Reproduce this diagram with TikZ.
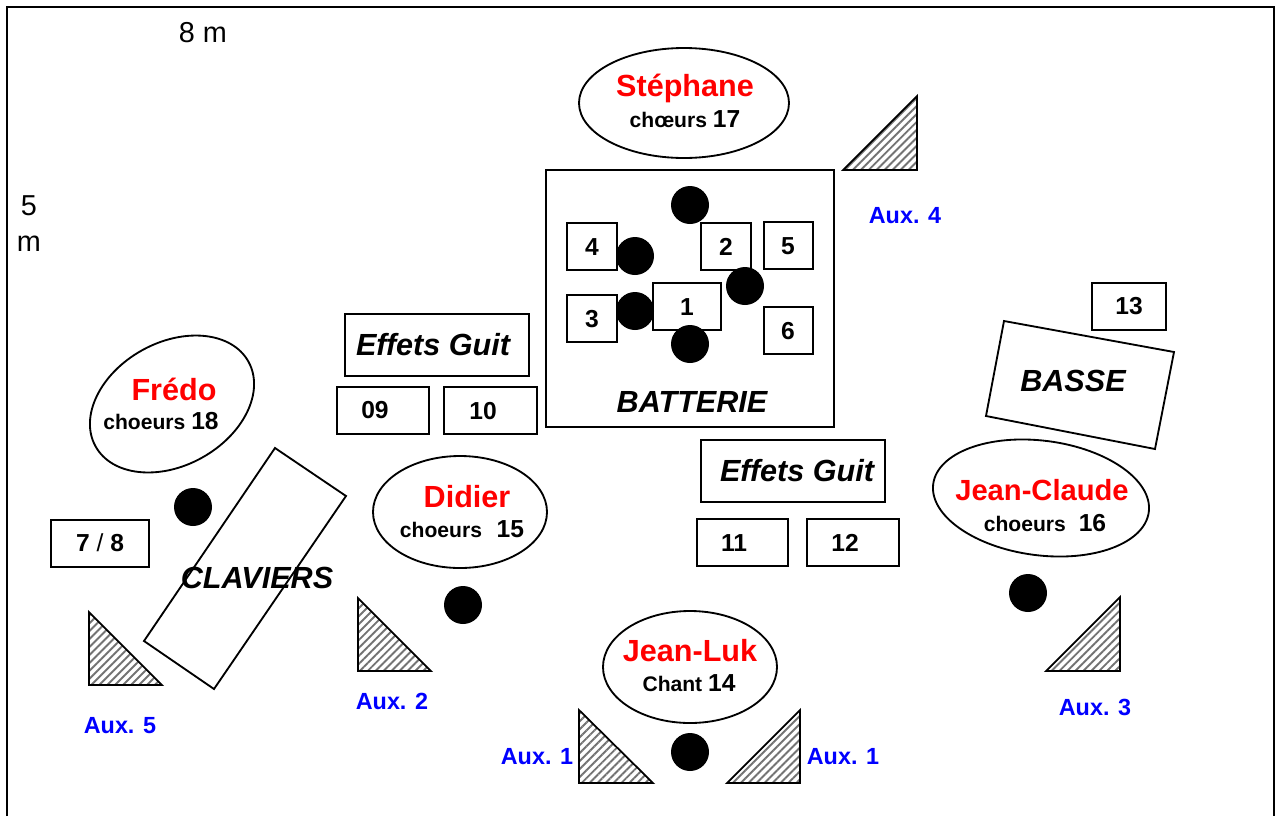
\documentclass[tikz,border=0pt]{standalone}
\usepackage{fontspec}
\setmainfont{Liberation Sans}
\usepackage{tikz}
\usetikzlibrary{patterns.meta}
\newcommand{\smalltxt}{\fontsize{12}{14}\selectfont\bfseries}
\newcommand{\numtxt}{\fontsize{14}{16}\selectfont\bfseries}
\tikzset{
  nom/.style={text=red,font=\fontsize{17.4}{20}\selectfont\bfseries,inner sep=0pt},
  role/.style={font=\smalltxt,inner sep=0pt},
  num/.style={font=\numtxt,inner sep=0pt},
  aux/.style={text=blue,font=\fontsize{13.3}{16}\selectfont\bfseries,inner sep=0pt},
  titre/.style={font=\fontsize{17.4}{20}\selectfont\bfseries\itshape,inner sep=0pt},
  dim/.style={font=\fontsize{16.4}{20}\selectfont,inner sep=0pt},
  retour/.style={draw=black,line width=1pt,line join=miter,pattern={Lines[angle=45,distance=3.2pt,line width=1.1pt]},pattern color=black!55},
  trait/.style={line width=1.05pt},
  micro/.style={fill=black}
}
\begin{document}
\begin{tikzpicture}[x=0.02cm,y=-0.02cm]
\useasboundingbox (0,0) rectangle (1279,816);
% scene
\draw[line width=1.1pt] (7,816) -- (7,7) -- (1274,7) -- (1274,816);
\node[dim] (largeur) at (203,33) {8 m};
\node[dim] (prof5) at (29,206) {5};
\node[dim] (profm) at (29,244) {m};
% batterie
\draw[trait] (546,170) rectangle (834,427);
\node[titre] (batterie) at (692,402) {BATTERIE};
\draw[trait] (567,223) rectangle (617,270);
\draw[trait] (701,223) rectangle (751,270);
\draw[trait] (764,222) rectangle (813,269);
\draw[trait] (653,283) rectangle (721,330);
\draw[trait] (567,295) rectangle (617,342);
\draw[trait] (764,307) rectangle (813,354);
\node[num] (n4) at (592,247) {4};
\node[num] (n2) at (726,247) {2};
\node[num] (n5) at (788,246) {5};
\node[num] (n1) at (687,307) {1};
\node[num] (n3) at (592,319) {3};
\node[num] (n6) at (788,331) {6};
\fill[micro] (690,205) circle (19);
\fill[micro] (635,256) circle (19);
\fill[micro] (745,286) circle (19);
\fill[micro] (635,311) circle (19);
\fill[micro] (690,344) circle (19);
% guitares
\draw[trait] (345,314) rectangle (529,376);
\node[titre] (effetsA) at (433,345) {Effets Guit};
\draw[trait] (337,387) rectangle (429,434);
\draw[trait] (444,387) rectangle (537,434);
\node[num] (n09) at (375,410) {09};
\node[num] (n10) at (483,411) {10};
\draw[trait] (701,440) rectangle (885,502);
\node[titre] (effetsB) at (797,471) {Effets Guit};
\draw[trait] (697,519) rectangle (788,566);
\draw[trait] (807,519) rectangle (899,566);
\node[num] (n11) at (734,543) {11};
\node[num] (n12) at (845,543) {12};
% basse
\draw[trait] (1092,283) rectangle (1166,330);
\node[num] (n13) at (1129,306) {13};
\draw[trait] (1004,321) -- (1174,352) -- (1155,449) -- (986,416) -- cycle;
\node[titre] (basse) at (1073,381) {BASSE};
% claviers
\draw[trait] (275,448) -- (346,496) -- (214,689) -- (144,641) -- cycle;
\node[titre] (claviers) at (257,578) {CLAVIERS};
\draw[trait] (51,520) rectangle (149,567);
\node[num] (n78) at (100,543) {7 {\fontseries{m}\selectfont/} 8};
% musiciens
\draw[trait] (684,103) ellipse (105 and 55);
\node[nom] (stephane) at (685,88) {Stéphane};
\node[role] (choeurs17) at (685,119) {chœurs {\numtxt 17}};
\draw[trait,rotate around={29:(172,404)}] (172,404) ellipse (87.4 and 61.5);
\node[nom] (fredo) at (174,389) {Frédo};
\node[role] (choeurs18) at (161,421) {choeurs {\numtxt 18}};
\draw[trait] (460,512) ellipse (87 and 56);
\node[nom] (didier) at (467,497) {Didier};
\node[role] (choeurs15) at (462,529) {choeurs\hspace{5pt} {\numtxt 15}};
\draw[trait,rotate around={-7.4:(1041,498)}] (1041,498) ellipse (108.7 and 57.3);
\node[nom,font=\fontsize{16.6}{20}\selectfont\bfseries] (jeanclaude) at (1042,490) {Jean-Claude};
\node[role] (choeurs16) at (1045,523) {choeurs\hspace{4pt} {\numtxt 16}};
\draw[trait] (690,667) ellipse (87 and 56);
\node[nom] (jeanluk) at (690,651) {Jean-Luk};
\node[role] (chant14) at (689,683) {Chant {\numtxt 14}};
% micros
\fill[micro] (193,507) circle (19);
\fill[micro] (463,605) circle (19);
\fill[micro] (1028,593) circle (19);
\fill[micro] (690,752) circle (19);
% retours
\draw[retour] (843,170) -- (917,96) -- (917,170) -- cycle;
\draw[retour] (89,612) -- (89,685) -- (162,685) -- cycle;
\draw[retour] (358,598) -- (358,671) -- (431,671) -- cycle;
\draw[retour] (579,710) -- (579,783) -- (653,783) -- cycle;
\draw[retour] (727,783) -- (800,710) -- (800,783) -- cycle;
\draw[retour] (1046,671) -- (1120,597) -- (1120,671) -- cycle;
\node[aux] (aux4) at (905,216) {Aux. 4};
\node[aux] (aux5) at (120,726) {Aux. 5};
\node[aux] (aux2) at (392,701) {Aux. 2};
\node[aux] (aux1a) at (537,757) {Aux. 1};
\node[aux] (aux1b) at (843,757) {Aux. 1};
\node[aux] (aux3) at (1095,707) {Aux. 3};
\end{tikzpicture}
\end{document}
